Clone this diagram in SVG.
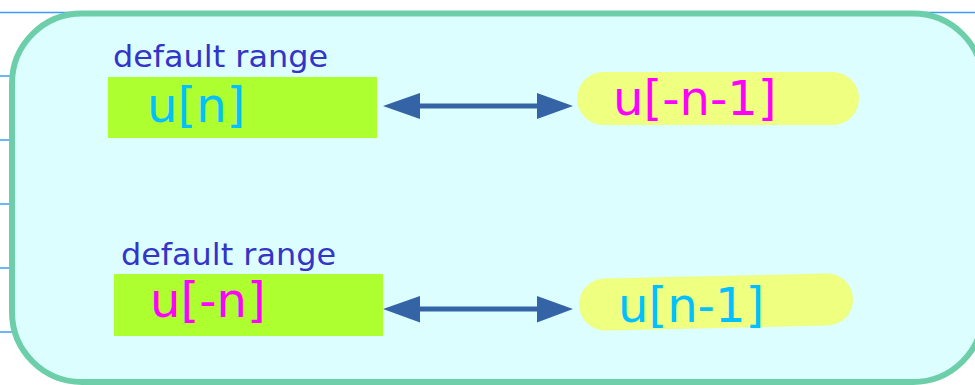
<svg xmlns="http://www.w3.org/2000/svg" width="975" height="385" viewBox="0 0 975 385">
  <defs>
    <style>
      .grid { stroke: #3d9cf5; stroke-width: 1.5; }
      .lbl { font-family: "DejaVu Sans", sans-serif; font-size: 30px; fill: #3434c8; }
      .big { font-family: "DejaVu Sans", sans-serif; font-size: 48px; }
      .cyan { fill: #00c0ff; }
      .mag { fill: #ff00ff; }
      .box { fill: #adff2f; }
      .pill { fill: #efff80; }
      .conn { stroke: #3464a6; stroke-width: 5; fill: none; }
      .head { fill: #3464a6; }
    </style>
  </defs>
  <rect width="975" height="385" fill="#ffffff"/>
  <g id="gridlines">
    <line class="grid" x1="0" y1="12.5" x2="975" y2="12.5"/>
    <line class="grid" x1="0" y1="76" x2="40" y2="76"/>
    <line class="grid" x1="0" y1="140" x2="40" y2="140"/>
    <line class="grid" x1="0" y1="204" x2="40" y2="204"/>
    <line class="grid" x1="0" y1="268" x2="40" y2="268"/>
    <line class="grid" x1="0" y1="332" x2="40" y2="332"/>
  </g>
  <g id="frame">
    <rect x="12" y="13.5" width="971" height="368.5" rx="70" ry="70" fill="#dcfefe" stroke="#6ccfaa" stroke-width="6"/>
  </g>
  <g id="node-un">
    <text class="lbl" x="113" y="67" textLength="215" lengthAdjust="spacingAndGlyphs">default range</text>
    <rect class="box" x="108" y="77" width="269" height="61"/>
    <text class="big cyan" x="147" y="122">u[n]</text>
  </g>
  <g id="node-u-n-1">
    <rect class="pill" x="577" y="72" width="282" height="53" rx="26.5" ry="26.5"/>
    <text class="big mag" x="613" y="115">u[-n-1]</text>
  </g>
  <g id="node-u-n">
    <text class="lbl" x="121" y="265" textLength="215" lengthAdjust="spacingAndGlyphs">default range</text>
    <rect class="box" x="114" y="274" width="269" height="62"/>
    <text class="big mag" x="150" y="317">u[-n]</text>
  </g>
  <g id="node-un-1">
    <rect class="pill" x="579" y="276" width="274" height="52" rx="26" ry="26" transform="rotate(-1.3 716 302)"/>
    <text class="big cyan" x="618" y="322">u[n-1]</text>
  </g>
  <g id="connectors">
    <line class="conn" x1="415" y1="106" x2="542" y2="106"/>
    <polygon class="head" points="383,106 420,93 420,119"/>
    <polygon class="head" points="573,106 537,93 537,119"/>
    <line class="conn" x1="415" y1="309" x2="542" y2="309"/>
    <polygon class="head" points="383,309 420,296 420,322.5"/>
    <polygon class="head" points="573,309 537,296 537,322.5"/>
  </g>
</svg>
